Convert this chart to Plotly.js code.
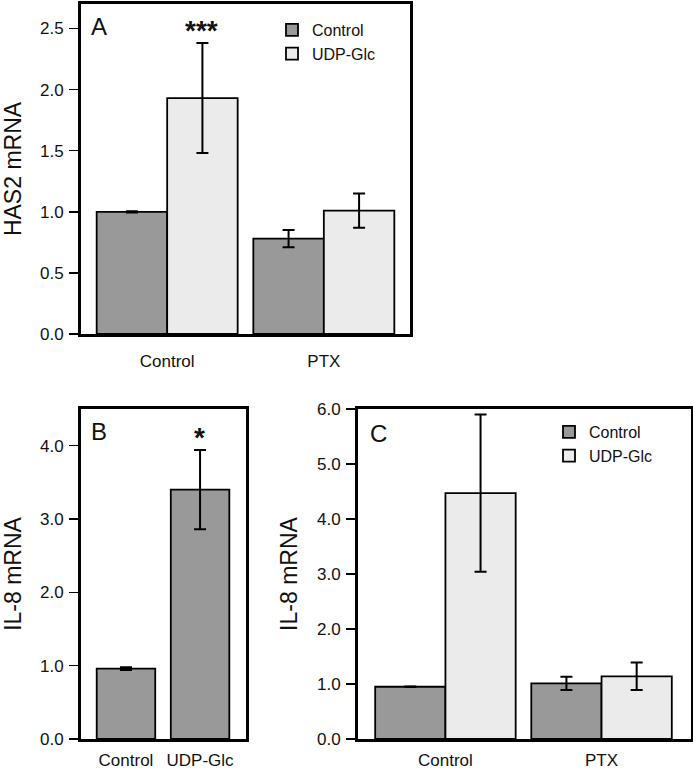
<!DOCTYPE html>
<html>
<head>
<meta charset="utf-8">
<script src="https://cdn.plot.ly/plotly-3.0.1.min.js"></script>
<style>html,body{margin:0;padding:0;background:#fff;}#chart{width:693px;height:771px;}</style>
</head>
<body>
<div id="chart"></div>
<script>
// ---- Data ----
const groupsAC = ['Control', 'PTX'];
const seriesNames = ['Control', 'UDP-Glc'];

// Panel A: HAS2 mRNA
const hasControl = [1.00, 0.78];
const hasControlErr = [0.005, 0.07];
const hasUDP = [1.93, 1.01];
const hasUDPErr = [0.45, 0.14];

// Panel B: IL-8 mRNA
const bCategories = ['Control', 'UDP-Glc'];
const bValues = [0.96, 3.40];
const bErr = [0.02, 0.54];

// Panel C: IL-8 mRNA
const ilControl = [0.95, 1.01];
const ilControlErr = [0.005, 0.12];
const ilUDP = [4.47, 1.14];
const ilUDPErr = [1.43, 0.25];

// ---- Styles ----
const DARK = '#999999';
const LIGHT = '#ebebeb';
const FONT = 'Liberation Sans, Arial, Helvetica, sans-serif';
const W = 693, H = 771;
const px = v => v / W;
const py = v => 1 - v / H;

function barTrace(x, y, err, color, name, xa, ya, legendId, showlegend) {
  return {
    type: 'bar', x: x, y: y, name: name,
    xaxis: xa, yaxis: ya,
    legend: legendId, showlegend: showlegend,
    marker: {color: color, line: {color: '#000', width: 1.8}},
    error_y: {type: 'data', array: err, visible: true, color: '#000', thickness: 2, width: 6},
    hoverinfo: 'skip'
  };
}

const traces = [
  barTrace(groupsAC, hasControl, hasControlErr, DARK, seriesNames[0], 'x', 'y', 'legend', true),
  barTrace(groupsAC, hasUDP, hasUDPErr, LIGHT, seriesNames[1], 'x', 'y', 'legend', true),
  Object.assign(barTrace(bCategories, bValues, bErr, DARK, 'IL-8', 'x2', 'y2', 'legend', false), {width: 0.79}),
  barTrace(groupsAC, ilControl, ilControlErr, DARK, seriesNames[0], 'x3', 'y3', 'legend2', true),
  barTrace(groupsAC, ilUDP, ilUDPErr, LIGHT, seriesNames[1], 'x3', 'y3', 'legend2', true)
];

const frame = {showline: true, mirror: true, linecolor: '#000', linewidth: 3, zeroline: false, showgrid: false, fixedrange: true};
function xAxis(domain, range, anchor, standoff) {
  return Object.assign({}, frame, {
    domain: domain, range: range, anchor: anchor, type: 'category',
    ticks: '', ticklabelstandoff: standoff,
    tickfont: {family: FONT, size: 17, color: '#111'}
  });
}
function yAxis(domain, range, dtick, anchor, title) {
  return Object.assign({}, frame, {
    domain: domain, range: range, anchor: anchor,
    dtick: dtick, tick0: 0, tickformat: '.1f',
    ticks: 'outside', ticklen: 9, tickwidth: 1.5, tickcolor: '#000',
    ticklabelstandoff: 2,
    tickfont: {family: FONT, size: 17, color: '#111'},
    title: {text: title, standoff: 13, font: {family: FONT, size: 23, color: '#111'}}
  });
}

const legendBase = {
  bgcolor: 'rgba(0,0,0,0)', borderwidth: 0,
  font: {family: FONT, size: 16, color: '#111'},
  xanchor: 'left', yanchor: 'top', tracegroupgap: 0, itemclick: false
};

function label(text, x, y, size) {
  return {text: text, x: px(x), y: py(y), xref: 'paper', yref: 'paper',
          xanchor: 'center', yanchor: 'middle', showarrow: false,
          font: {family: FONT, size: size, color: '#111'}};
}

const layout = {
  width: W, height: H,
  margin: {l: 0, r: 0, t: 0, b: 0},
  paper_bgcolor: '#fff', plot_bgcolor: '#fff',
  barmode: 'group', bargap: 0.1, bargroupgap: 0,
  font: {family: FONT, color: '#111'},
  xaxis: xAxis([px(81), px(410)], [-0.55, 1.55], 'y', 10),
  yaxis: yAxis([py(334), py(4)], [0, 2.7], 0.5, 'x', 'HAS2 mRNA'),
  xaxis2: xAxis([px(81), px(246)], [-0.607, 1.62], 'y2', 4),
  yaxis2: yAxis([py(739), py(409)], [0, 4.5], 1, 'x2', 'IL-8 mRNA'),
  xaxis3: xAxis([px(358), px(691)], [-0.56, 1.573], 'y3', 4),
  yaxis3: yAxis([py(739), py(409)], [0, 6.0], 1, 'x3', 'IL-8 mRNA'),
  legend: Object.assign({}, legendBase, {x: px(272), y: py(13)}),
  legend2: Object.assign({}, legendBase, {x: px(549), y: py(415)}),
  annotations: [
    label('A', 99, 27, 24),
    label('<b>***</b>', 202, 31, 28),
    label('B', 99, 431, 24),
    label('<b>*</b>', 200, 437, 28),
    label('C', 378, 433, 24)
  ]
};

Plotly.newPlot('chart', traces, layout, {staticPlot: true, displayModeBar: false});
</script>
</body>
</html>
